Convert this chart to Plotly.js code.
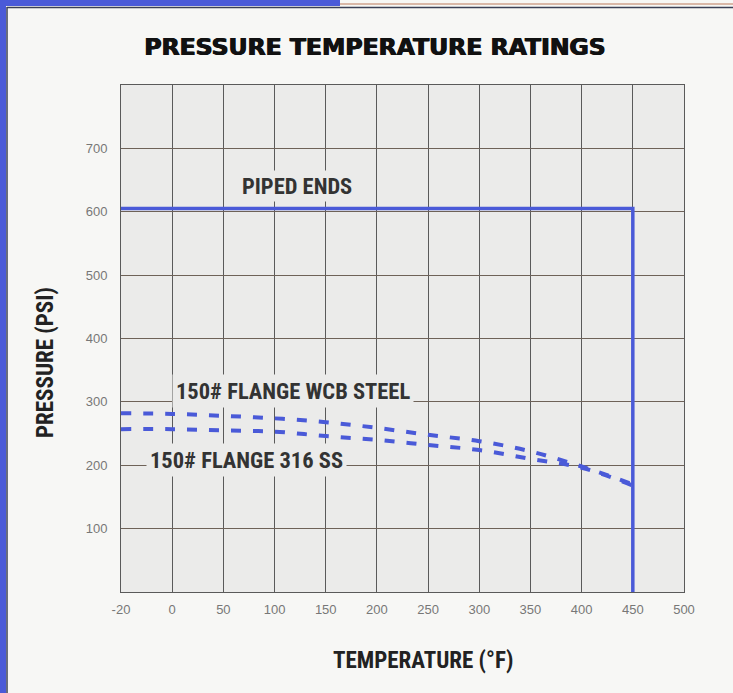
<!DOCTYPE html>
<html>
<head>
<meta charset="utf-8">
<script src="https://cdn.plot.ly/plotly-3.0.1.min.js"></script>
<style>
html,body{margin:0;padding:0;background:#f7f7f5;}
#chart{width:733px;height:693px;}
</style>
</head>
<body>
<div id="chart"></div>
<script>
// Temperature categories (°F) shown on the x axis
const tempCategories = ["-20","0","50","100","150","200","250","300","350","400","450","500"];
// Pressure ticks (PSI)
const pressureTicks = [100,200,300,400,500,600,700];

// PIPED ENDS rating
const pipedTemps = ["-20","450","450"];
const pipedPsi = [605,605,0];

// 150# FLANGE WCB STEEL
const wcbTemps = ["-20","0","50","100","150","200","250","300","350","400","450"];
const wcbPsi = [282,281,278,274,268,259,248,238,222,198,170];

// 150# FLANGE 316 SS
const ssTemps = ["-20","0","50","100","150","200","250","300","350","400","450"];
const ssPsi = [257,257,255,253,246,240,232,224,210,196,168];

// Text
const chartTitle = "PRESSURE TEMPERATURE RATINGS";
const xTitle = "TEMPERATURE (°F)";
const yTitle = "PRESSURE (PSI)";
const seriesLabels = ["PIPED ENDS", "150# FLANGE WCB STEEL", "150# FLANGE 316 SS"];

const blue = "#4a5ad8";
const condensed = "'Liberation Sans Narrow', 'Roboto Condensed', 'Liberation Sans', Arial, sans-serif";

const traces = [
  {x: pipedTemps, y: pipedPsi, name: seriesLabels[0], type: "scatter", mode: "lines", line: {color: blue, width: 3.5}, hoverinfo: "skip"},
  {x: wcbTemps, y: wcbPsi, name: seriesLabels[1], type: "scatter", mode: "lines", line: {color: blue, width: 4, dash: "10px,12px", shape: "spline"}, hoverinfo: "skip"},
  {x: ssTemps, y: ssPsi, name: seriesLabels[2], type: "scatter", mode: "lines", line: {color: blue, width: 4, dash: "10px,12px", shape: "spline"}, hoverinfo: "skip"}
];

// frame geometry
const L = 121, R = 684, T = 85, B = 592, W = 733, H = 693;
const px = v => (v - L) / (R - L);
const py = v => (B - v) / (B - T);

const labelFont = {family: condensed, size: 22.5, color: "#333", weight: "bold"};
const axisTitleFont = {family: condensed, size: 23, color: "#222", weight: "bold"};

const layout = {
  width: W, height: H,
  margin: {l: L, r: W - R, t: T, b: H - B},
  paper_bgcolor: "#f7f7f5",
  plot_bgcolor: "#ebebea",
  showlegend: false,
  title: {
    text: chartTitle,
    font: {family: "'DejaVu Sans', sans-serif", size: 23.5, color: "#111", weight: 900, shadow: "0.6px 0 0 #111, -0.6px 0 0 #111"},
    x: 375/W, xanchor: "center", xref: "container",
    y: 1 - 47/H, yanchor: "middle", yref: "container"
  },
  xaxis: {
    type: "category",
    categoryorder: "array",
    categoryarray: tempCategories,
    tickvals: tempCategories,
    range: [0, tempCategories.length - 1],
    showgrid: true, gridcolor: "#5a5a5a", gridwidth: 1,
    showline: true, linecolor: "#5a5a5a", linewidth: 1, mirror: true,
    ticks: "outside", ticklen: 5, tickcolor: "rgba(0,0,0,0)",
    tickfont: {family: "'Liberation Sans', Arial, sans-serif", size: 13, color: "#777"},
    zeroline: false, fixedrange: true
  },
  yaxis: {
    range: [0, 800],
    tickvals: pressureTicks,
    showgrid: true, gridcolor: "#6e6258", gridwidth: 1,
    showline: true, linecolor: "#5a5a5a", linewidth: 1, mirror: true,
    ticks: "outside", ticklen: 10, tickcolor: "rgba(0,0,0,0)",
    tickfont: {family: "'Liberation Sans', Arial, sans-serif", size: 13, color: "#777"},
    zeroline: false, fixedrange: true
  },
  annotations: [
    {text: xTitle, x: px(423), y: py(660), xref: "paper", yref: "paper", xanchor: "center", yanchor: "middle", showarrow: false, font: axisTitleFont},
    {text: yTitle, x: px(45), y: py(363), xref: "paper", yref: "paper", xanchor: "center", yanchor: "middle", showarrow: false, textangle: -90, font: axisTitleFont},
    {text: seriesLabels[0], x: px(297), y: py(186), xref: "paper", yref: "paper", xanchor: "center", yanchor: "middle", showarrow: false,
     font: labelFont, bgcolor: "#ebebea", borderpad: 2},
    {text: seriesLabels[1], x: px(293), y: py(391), xref: "paper", yref: "paper", xanchor: "center", yanchor: "middle", showarrow: false,
     font: labelFont, bgcolor: "#ebebea", borderpad: 3},
    {text: seriesLabels[2], x: px(246), y: py(460), xref: "paper", yref: "paper", xanchor: "center", yanchor: "middle", showarrow: false,
     font: labelFont, bgcolor: "#ebebea", borderpad: 3}
  ],
  shapes: [
    {type: "rect", xref: "paper", yref: "paper", x0: px(0), x1: px(6), y0: py(H), y1: py(0), fillcolor: blue, line: {width: 0}, layer: "below"},
    {type: "line", xref: "paper", yref: "paper", x0: px(7), x1: px(7), y0: py(H), y1: py(7), line: {color: "#3a3f55", width: 1.5}, layer: "below"},
    {type: "rect", xref: "paper", yref: "paper", x0: px(0), x1: px(340), y0: py(6), y1: py(0), fillcolor: blue, line: {width: 0}, layer: "below"},
    {type: "line", xref: "paper", yref: "paper", x0: px(340), x1: px(W), y0: py(4), y1: py(4), line: {color: "#d9b8a8", width: 2}, layer: "below"},
    {type: "line", xref: "paper", yref: "paper", x0: px(7), x1: px(W), y0: py(7.5), y1: py(7.5), line: {color: "#3a3f55", width: 1.5}, layer: "below"}
  ]
};

Plotly.newPlot("chart", traces, layout, {displayModeBar: false, staticPlot: true});
</script>
</body>
</html>
